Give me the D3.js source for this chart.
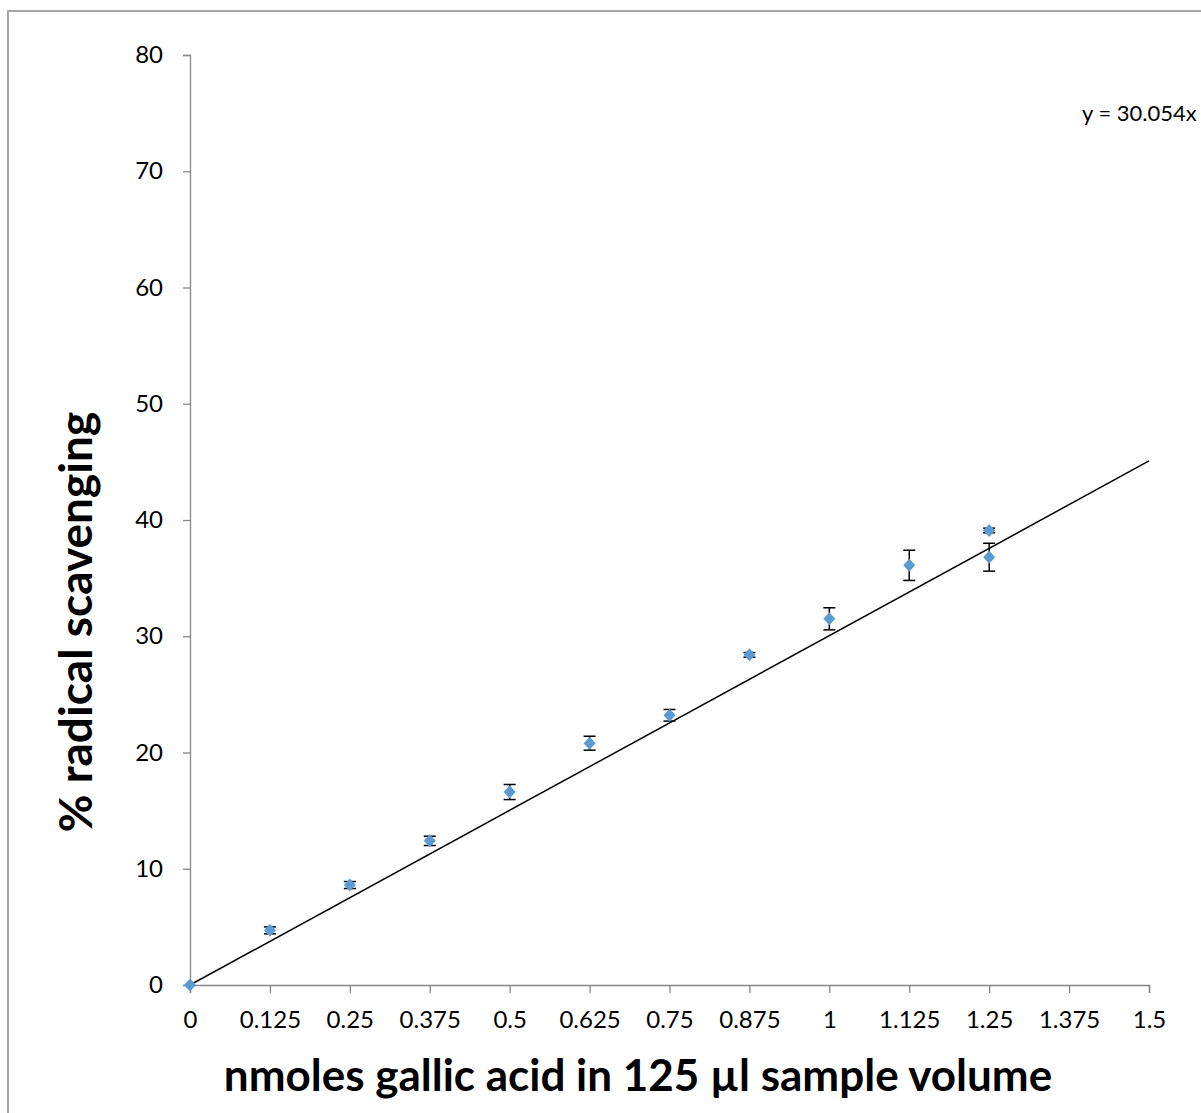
<!DOCTYPE html>
<html>
<head>
<meta charset="utf-8">
<script src="https://cdn.jsdelivr.net/npm/d3@7"></script>
<style>
  html, body { margin: 0; padding: 0; background: #fff; }
  svg { display: block; }
  text { font-family: Lato, "Open Sans", sans-serif; fill: #000; }
</style>
</head>
<body>
<svg id="chart" width="1201" height="1113"></svg>
<script>
// Gallic acid standard curve: amount (nmol) vs % radical scavenging
const amounts  = [0, 0.125, 0.25, 0.375, 0.5, 0.625, 0.75, 0.875, 1, 1.125, 1.25, 1.25];
const scavenge = [0, 4.7, 8.6, 12.4, 16.6, 20.8, 23.2, 28.4, 31.5, 36.1, 39.1, 36.8];
const errors   = [0, 0.3, 0.3, 0.4, 0.65, 0.6, 0.5, 0.2, 0.95, 1.3, 0.2, 1.2];

const xTicks = [0, 0.125, 0.25, 0.375, 0.5, 0.625, 0.75, 0.875, 1, 1.125, 1.25, 1.375, 1.5];
const yTicks = [0, 10, 20, 30, 40, 50, 60, 70, 80];

const slope = 30.054, intercept = 0;
const equationLabel = "y = 30.054x";

const svg = d3.select("#chart");

// chart area frame (left and top edges visible)
svg.append("path")
  .attr("d", "M8,1113 V11 H1201")
  .attr("fill", "none").attr("stroke", "#a6a6a6").attr("stroke-width", 2);

const x = d3.scaleLinear().domain([0, 1.5]).range([190, 1149]);
const y = d3.scaleLinear().domain([0, 80]).range([985, 55]);

const axisColor = "#868686";

const xAxis = svg.append("g")
  .attr("transform", `translate(0,${y(0)})`)
  .call(d3.axisBottom(x).tickValues(xTicks).tickSize(8).tickPadding(18)
        .tickFormat(d => String(d)));
const yAxis = svg.append("g")
  .attr("transform", `translate(${x(0)},0)`)
  .call(d3.axisLeft(y).tickValues(yTicks).tickSize(7).tickPadding(20));

[xAxis, yAxis].forEach(g => {
  g.select(".domain").attr("stroke", axisColor).attr("stroke-width", 1.3);
  g.selectAll(".tick line").attr("stroke", axisColor).attr("stroke-width", 1.3);
  g.selectAll(".tick text").attr("font-size", 24).attr("font-family", "Lato, sans-serif").attr("fill", "#000");
});
xAxis.selectAll(".tick text").attr("dy", "0.71em");

// linear trendline across the full x range
svg.append("line")
  .attr("x1", x(0)).attr("y1", y(intercept))
  .attr("x2", x(1.5)).attr("y2", y(slope * 1.5 + intercept))
  .attr("stroke", "#000").attr("stroke-width", 1.5);

const pts = amounts.map((a, i) => ({ a, v: scavenge[i], e: errors[i] }));

// error bars
const eb = svg.append("g").attr("stroke", "#000").attr("stroke-width", 1.5);
pts.filter(d => d.e > 0).forEach(d => {
  const cx = x(d.a);
  eb.append("line").attr("x1", cx).attr("x2", cx).attr("y1", y(d.v - d.e)).attr("y2", y(d.v + d.e));
  [d.v - d.e, d.v + d.e].forEach(v =>
    eb.append("line").attr("x1", cx - 6).attr("x2", cx + 6).attr("y1", y(v)).attr("y2", y(v)));
});

// diamond markers
svg.append("g").selectAll("path").data(pts).join("path")
  .attr("transform", d => `translate(${x(d.a)},${y(d.v)})`)
  .attr("d", "M0,-6.5 L6,0 L0,6.5 L-6,0 Z")
  .attr("fill", "#5b9bd5");

// regression equation
svg.append("text")
  .attr("x", 1082).attr("y", 121)
  .attr("font-size", 22)
  .text(equationLabel);

// axis titles
svg.append("text")
  .attr("x", 638).attr("y", 1091)
  .attr("text-anchor", "middle")
  .attr("font-size", 44).attr("font-weight", "bold")
  .text("nmoles gallic acid in 125 µl sample volume");

svg.append("text")
  .attr("transform", "translate(92,622) rotate(-90)")
  .attr("text-anchor", "middle")
  .attr("font-size", 46).attr("font-weight", "bold")
  .text("% radical scavenging");
</script>
</body>
</html>
